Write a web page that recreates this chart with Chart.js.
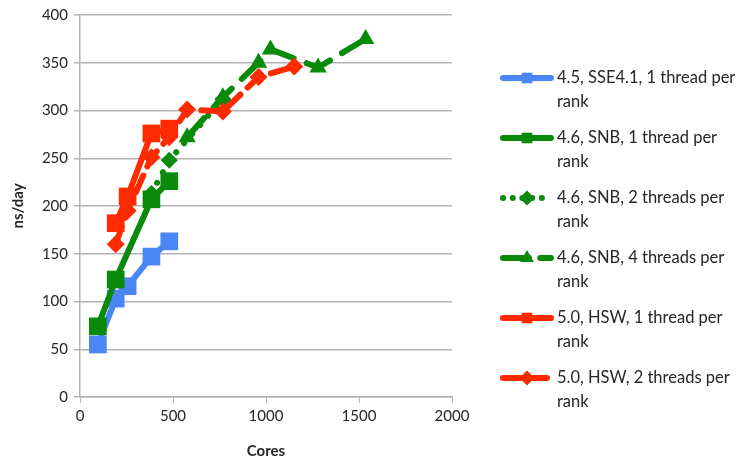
<!DOCTYPE html>
<html>
<head>
<meta charset="utf-8">
<script src="https://cdn.jsdelivr.net/npm/chart.js@4/dist/chart.umd.min.js"></script>
<style>
  html, body { margin: 0; padding: 0; background: #fff; }
  #wrap { width: 742px; height: 460px; position: relative; }
</style>
</head>
<body>
<div id="wrap"><canvas id="myChart" width="742" height="460"></canvas></div>
<script>
// Datos (ns/day frente a numero de cores)
const sse41Cores = [96, 192, 256, 384, 480];
const sse41Ns    = [55, 103, 116, 147, 163];

const snb1Cores = [96, 192, 384, 480];
const snb1Ns    = [74, 123, 207, 226];

const snb2Cores = [384, 480, 768];
const snb2Ns    = [213, 248, 312];

const snb4Cores = [576, 768, 960, 1024, 1280, 1536];
const snb4Ns    = [272, 314, 350, 364, 345, 375];

const hsw1Cores = [192, 256, 384, 480];
const hsw1Ns    = [182, 210, 276, 281];

const hsw2Cores = [192, 256, 384, 480, 576, 768, 960, 1152];
const hsw2Ns    = [160, 195, 251, 272, 301, 299, 335, 346];

const seriesLabels = [
    ["4.5, SSE4.1, 1 thread per", "rank"],
    ["4.6, SNB, 1 thread per", "rank"],
    ["4.6, SNB, 2 threads per", "rank"],
    ["4.6, SNB, 4 threads per", "rank"],
    ["5.0, HSW, 1 thread per", "rank"],
    ["5.0, HSW, 2 threads per", "rank"]
];

const yTicks = [0, 50, 100, 150, 200, 250, 300, 350, 400];
const xTicks = [0, 500, 1000, 1500, 2000];

const AZUL = "#4a86f6";
const VERDE = "#0a8a0a";
const ROJO = "#ff2a00";
const FUENTE = "Lato, 'Liberation Sans', sans-serif";

function puntos(xs, ys) {
    return xs.map((x, i) => ({ x: x, y: ys[i] }));
}

function serie(idx, xs, ys, color, estilo, radio, dash) {
    return {
        label: seriesLabels[idx].join(" "),
        data: puntos(xs, ys),
        order: -idx, // las series posteriores quedan encima, como en el original
        borderColor: color,
        backgroundColor: color,
        borderWidth: 6,
        borderDash: dash,
        borderCapStyle: "round",
        borderJoinStyle: "round",
        pointStyle: estilo,
        pointRadius: radio,
        pointHoverRadius: radio,
        pointBorderWidth: 0,
        tension: 0
    };
}

const datasets = [
    serie(0, sse41Cores, sse41Ns, AZUL, "rect", 12.5, []),
    serie(1, snb1Cores, snb1Ns, VERDE, "rect", 12.5, []),
    serie(2, snb2Cores, snb2Ns, VERDE, "rectRot", 8.5, [0.1, 12]),
    serie(3, snb4Cores, snb4Ns, VERDE, "triangle", 10, [26, 14]),
    serie(4, hsw1Cores, hsw1Ns, ROJO, "rect", 12.5, []),
    serie(5, hsw2Cores, hsw2Ns, ROJO, "rectRot", 9, [18, 10])
];

// Leyenda dibujada a mano (etiquetas en dos lineas)
const leyendaPlugin = {
    id: "leyendaMultilinea",
    afterDraw(chart) {
        const ctx = chart.ctx;
        chart.data.datasets.forEach((ds, i) => {
            const cy = 78 + 60 * i;
            ctx.save();
            ctx.strokeStyle = ds.borderColor;
            ctx.lineWidth = 6;
            ctx.lineCap = "round";
            ctx.setLineDash(ds.borderDash && ds.borderDash.length ? [ds.borderDash[0], ds.borderDash[1] * 0.8] : []);
            ctx.beginPath();
            ctx.moveTo(503, cy);
            ctx.lineTo(551, cy);
            ctx.stroke();
            ctx.setLineDash([]);
            ctx.fillStyle = ds.backgroundColor;
            Chart.helpers.drawPoint(ctx, {
                pointStyle: ds.pointStyle,
                radius: ds.pointStyle === "triangle" ? 8 : 7.5,
                rotation: 0,
                borderWidth: 0
            }, 527, cy);
            ctx.fillStyle = "#262626";
            ctx.font = "16.5px " + FUENTE;
            ctx.textBaseline = "middle";
            ctx.textAlign = "left";
            seriesLabels[i].forEach((t, j) => ctx.fillText(t, 557, cy + 24 * j));
            ctx.restore();
        });
    }
};

new Chart(document.getElementById("myChart").getContext("2d"), {
    type: "line",
    data: { datasets: datasets },
    plugins: [leyendaPlugin],
    options: {
        responsive: false,
        animation: false,
        layout: { padding: { top: 14, right: 290, left: 9, bottom: 0 } },
        plugins: {
            legend: { display: false },
            tooltip: { enabled: false }
        },
        scales: {
            x: {
                type: "linear",
                min: 0,
                max: 2000,
                afterBuildTicks: s => { s.ticks = xTicks.map(v => ({ value: v })); },
                afterFit: s => { s.height = 63; },
                grid: {
                    drawOnChartArea: false,
                    drawTicks: true,
                    tickLength: 6,
                    color: "#b3b3b3"
                },
                border: { color: "#b3b3b3", width: 1.5 },
                ticks: {
                    color: "#262626",
                    font: { family: FUENTE, size: 15 },
                    padding: 4,
                    callback: v => String(v)
                },
                title: {
                    display: true,
                    text: "Cores",
                    color: "#262626",
                    font: { family: FUENTE, size: 15, weight: "bold" },
                    padding: { top: 2, bottom: 0 }
                }
            },
            y: {
                type: "linear",
                min: 0,
                max: 400,
                afterBuildTicks: s => { s.ticks = yTicks.map(v => ({ value: v })); },
                afterFit: s => { s.width = 71; },
                grid: {
                    color: "#b3b3b3",
                    lineWidth: 1.5,
                    tickLength: 6
                },
                border: { color: "#b3b3b3", width: 1.5 },
                ticks: {
                    color: "#262626",
                    font: { family: FUENTE, size: 15 },
                    padding: 6,
                    callback: v => String(v)
                },
                title: {
                    display: true,
                    text: "ns/day",
                    color: "#262626",
                    font: { family: FUENTE, size: 15, weight: "bold" },
                    padding: { top: 0, bottom: 4 }
                }
            }
        }
    }
});
</script>
</body>
</html>
